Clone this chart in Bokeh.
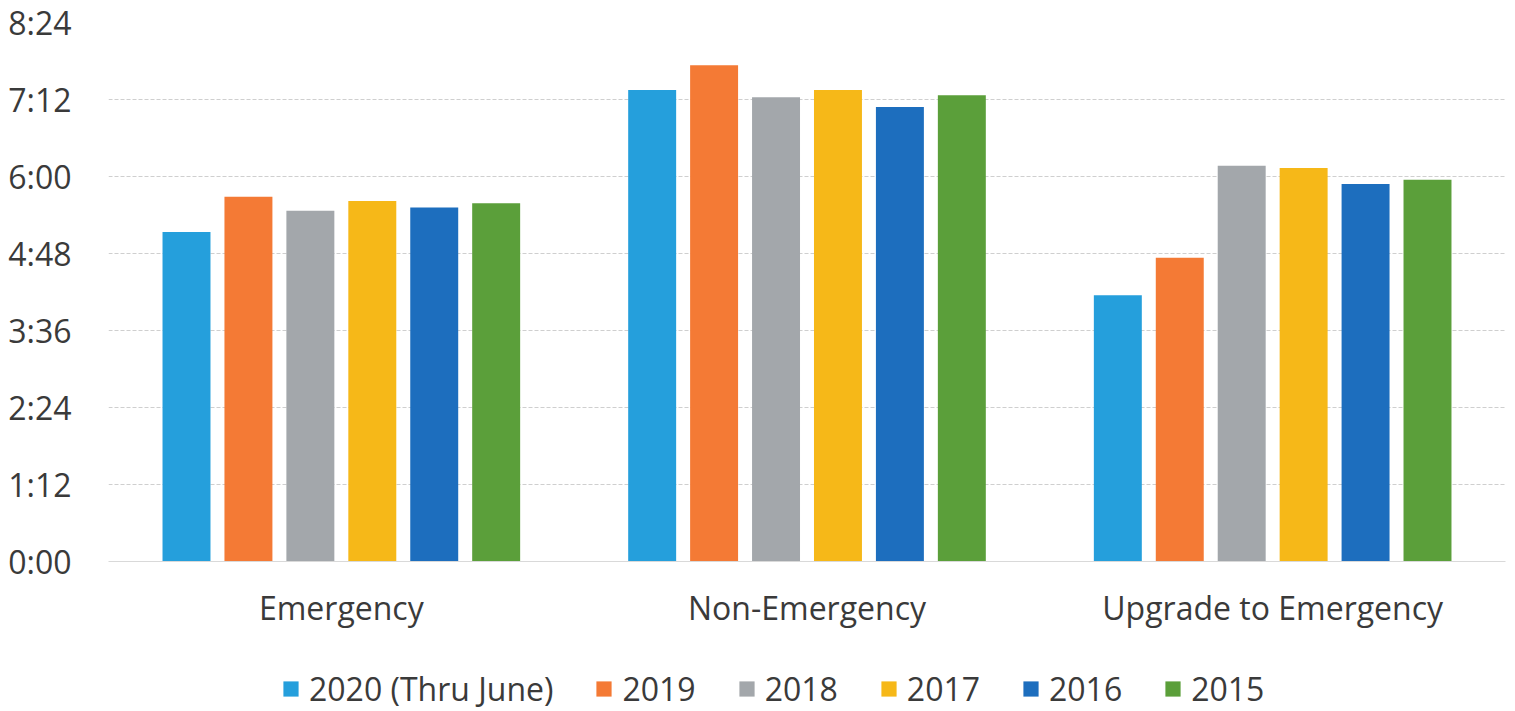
from bokeh.plotting import figure
from bokeh.models import FactorRange, Range1d, Legend, LegendItem, FixedTicker
from bokeh.layouts import column
from bokeh.transform import dodge
from bokeh.embed import file_html
from bokeh.resources import INLINE

categories = ["Emergency", "Non-Emergency", "Upgrade to Emergency"]
series = ["2020 (Thru June)", "2019", "2018", "2017", "2016", "2015"]
# response times in minutes
v2020 = [308, 441, 249]
v2019 = [341, 464, 284]
v2018 = [328, 434, 370]
v2017 = [337, 441, 368]
v2016 = [331, 425, 353]
v2015 = [335, 436, 357]
colors = ["#259FDC", "#F47A35", "#A3A7AB", "#F6B818", "#1D6EBE", "#5B9F3A"]
tick_values = [0, 72, 144, 216, 288, 360, 432, 504]
tick_labels = ["0:00", "1:12", "2:24", "3:36", "4:48", "6:00", "7:12", "8:24"]

values = [v2020, v2019, v2018, v2017, v2016, v2015]
FONT = "Open Sans"
TXT = "#3a3a3a"

p1 = figure(width=1507, height=640, x_range=FactorRange(*categories, range_padding=0),
            y_range=Range1d(0, 504), output_backend="svg", toolbar_location=None,
            min_border_left=108, min_border_right=2, min_border_top=22, min_border_bottom=79)
p1.outline_line_color = None

data = {"cat": categories}
for s, v in zip(series, values):
    data[s] = v

step = 0.133
for i, (s, c) in enumerate(zip(series, colors)):
    p1.vbar(x=dodge("cat", (i - 2.5) * step, range=p1.x_range), top=s, width=0.103,
            source=data, fill_color=c, line_color=None)

p1.yaxis.ticker = FixedTicker(ticks=tick_values)
p1.yaxis.major_label_overrides = {t: l for t, l in zip(tick_values, tick_labels)}
p1.yaxis.axis_line_color = None
p1.yaxis.major_tick_line_color = None
p1.yaxis.minor_tick_line_color = None
p1.yaxis.major_label_standoff = 31
p1.yaxis.major_label_text_font = FONT
p1.yaxis.major_label_text_font_size = "32px"
p1.yaxis.major_label_text_color = TXT

p1.xaxis.axis_line_color = "#d9d9d9"
p1.xaxis.major_tick_line_color = None
p1.xaxis.minor_tick_line_color = None
p1.xaxis.major_label_standoff = 18
p1.xaxis.major_label_text_font = FONT
p1.xaxis.major_label_text_font_size = "32px"
p1.xaxis.major_label_text_color = TXT

p1.xgrid.grid_line_color = None
p1.ygrid.grid_line_color = "#cfcfcf"
p1.ygrid.grid_line_dash = "4 2"
p1.ygrid.grid_line_width = 1

# legend-only strip below the chart
p2 = figure(width=1507, height=70, x_range=Range1d(0, 1), y_range=Range1d(0, 1),
            output_backend="svg", toolbar_location=None, min_border=0)
p2.axis.visible = False
p2.grid.grid_line_color = None
p2.outline_line_color = None
items = []
for s, c in zip(series, colors):
    r = p2.rect(x=[-5], y=[-5], width=[0.1], height=[0.1], fill_color=c, line_color=None)
    items.append(LegendItem(label=s, renderers=[r]))
legend = Legend(items=items, orientation="horizontal", location=(173, 0),
                label_text_font=FONT, label_text_font_size="32px", label_text_color=TXT,
                glyph_width=19, glyph_height=19, label_standoff=9, spacing=41,
                border_line_color=None, background_fill_alpha=0, padding=0, margin=0)
p2.add_layout(legend, "center")

p = column(p1, p2, spacing=0)
open("out.html", "w").write(file_html(p, INLINE))
